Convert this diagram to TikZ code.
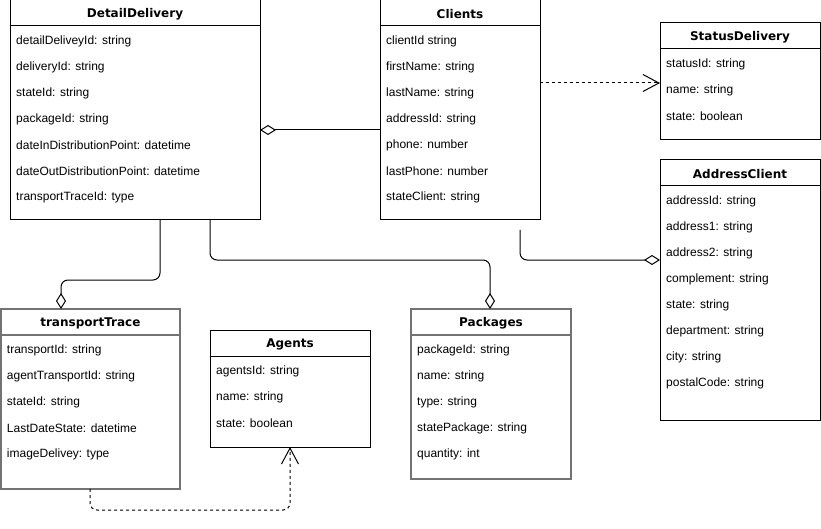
\documentclass[tikz,border=0pt]{standalone}
\usepackage{fontspec}
\setmainfont{Liberation Sans}
\newfontfamily\titlefont{DejaVu Sans}
\usetikzlibrary{arrows.meta,calc}
\tikzset{
  classbox/.style={draw=black,line width=1pt,inner sep=0pt,outer sep=0pt,fill=white,anchor=north west},
  graybox/.style={classbox,draw=black!55,line width=1.5pt},
  titletext/.style={font=\titlefont\bfseries\fontsize{12}{14}\selectfont,inner sep=0pt},
  rowtext/.style={font=\fontsize{12}{14}\selectfont,inner sep=0pt,anchor=west},
  conn/.style={line width=1pt,rounded corners=7pt},
  agg/.style={conn,-{Diamond[open,length=16pt,width=10pt,line width=1pt]}},
  dep/.style={conn,dashed,dash pattern=on 3pt off 3pt,-{Straight Barb[length=16pt,width=17pt,line width=1pt]}}
}
% #1 name, #2 x, #3 y, #4 w, #5 h, #6 title, #7 rows, #8 style
\newcommand{\UClass}[8]{%
  \node[#8,minimum width=#4pt,minimum height=#5pt] (#1) at (#2,#3) {};
  \draw[#8] (#2,#3+26) -- ++(#4,0);
  \node[titletext] (#1-t) at (#2+#4/2,#3+14) {#6};
  \foreach \t [count=\i] in {#7} \node[rowtext] (#1-\i) at (#2+6,#3+15+26*\i) {\t};
}
\begin{document}
\begin{tikzpicture}[x=1pt,y=-1pt]
\useasboundingbox (0,0) rectangle (821,529);
\fill[white] (0,0) rectangle (821,529);

\UClass{detail}{10}{0}{250}{220}{DetailDelivery}{detailDeliveyId: string,deliveryId: string,stateId: string,packageId: string,dateInDistributionPoint: datetime,dateOutDistributionPoint: datetime,transportTraceId: type}{classbox}
\UClass{clients}{380}{0}{160}{220}{Clients}{clientId string,firstName: string,lastName: string,addressId: string,phone: number,lastPhone: number,stateClient: string}{classbox}
\UClass{status}{660}{23}{160}{117}{StatusDelivery}{statusId: string,name: string,state: boolean}{classbox}
\UClass{addr}{660}{160}{160}{260}{AddressClient}{addressId: string,address1: string,address2: string,complement: string,state: string,department: string,city: string,postalCode: string}{classbox}
\UClass{trace}{0.75}{309}{179.25}{180}{transportTrace}{transportId: string,agentTransportId: string,stateId: string,LastDateState: datetime,imageDelivey: type}{graybox}
\UClass{agents}{210}{330}{160}{117}{Agents}{agentsId: string,name: string,state: boolean}{classbox}
\UClass{pack}{411}{309}{160}{170}{Packages}{packageId: string,name: string,type: string,statePackage: string,quantity: int}{graybox}

% connectors
\draw[agg] ($(clients.north west)+(0,130)$) -- ($(detail.north east)+(0,130)$);
\draw[dep] ($(clients.north east)+(0,83)$) -- ($(status.north west)+(0,60)$);
\draw[agg] ($(detail.south west)+(150,0)$) -- ++(0,60) -| ($(trace.north west)+(60.25,0)$);
\draw[agg] ($(detail.south west)+(200,0)$) -- ++(0,40) -| ($(pack.north west)+(79,0)$);
\draw[agg] ($(clients.south west)+(140,10)$) |- ($(addr.north west)+(0,100)$);
\draw[dep] ($(trace.south west)+(89.25,0)$) -- ++(0,21) -| ($(agents.south west)+(80,0)$);
\end{tikzpicture}
\end{document}
